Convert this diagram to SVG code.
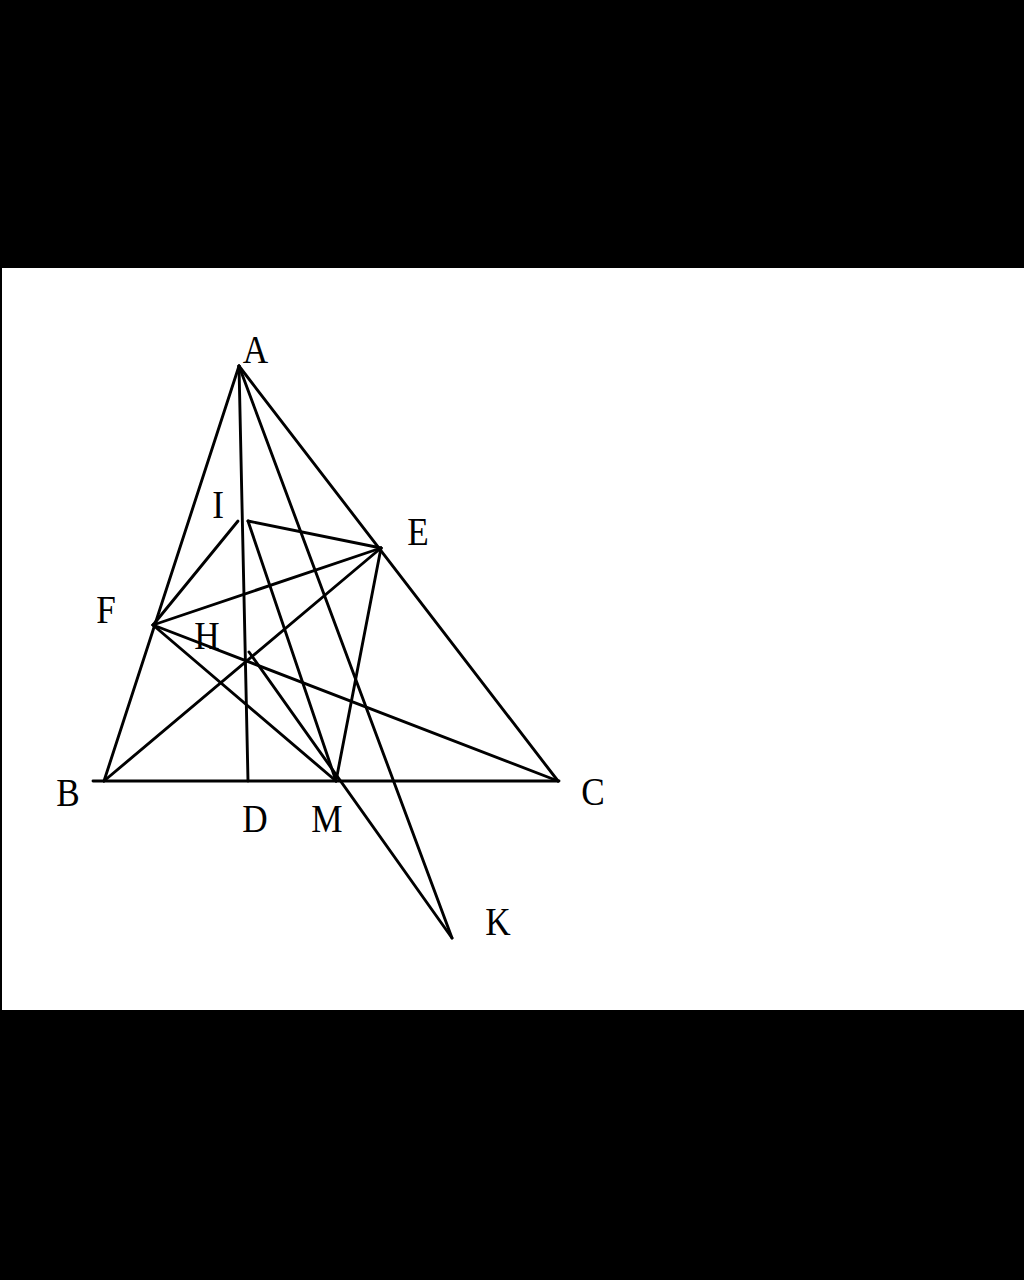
<svg xmlns="http://www.w3.org/2000/svg" width="1024" height="1280" viewBox="0 0 1024 1280">
<style>
.ln{stroke:#000;stroke-width:2.9;fill:none;stroke-linecap:round}
.lb{font-family:"Liberation Serif","Times New Roman",serif;font-size:40px;fill:#000;text-anchor:middle}
</style>
<rect x="0" y="0" width="1024" height="1280" fill="#000"/>
<rect x="2" y="268" width="1022" height="742" fill="#fff"/>
<g id="connectors">
<line class="ln" x1="239" y1="366" x2="104" y2="781"/>
<line class="ln" x1="239" y1="366" x2="558" y2="781"/>
<line class="ln" x1="239" y1="366" x2="248" y2="781"/>
<line class="ln" x1="239" y1="366" x2="452" y2="938"/>
<line class="ln" x1="93" y1="781" x2="559" y2="781"/>
<line class="ln" x1="104" y1="781" x2="381" y2="548"/>
<line class="ln" x1="153" y1="625" x2="381" y2="548"/>
<line class="ln" x1="153" y1="625" x2="238" y2="521"/>
<line class="ln" x1="248" y1="521" x2="381" y2="548"/>
<line class="ln" x1="248" y1="521" x2="336" y2="781"/>
<line class="ln" x1="381" y1="548" x2="336" y2="781"/>
<line class="ln" x1="153" y1="625" x2="336" y2="781"/>
<line class="ln" x1="153" y1="625" x2="558" y2="781"/>
<line class="ln" x1="249" y1="652" x2="452" y2="938"/>
</g>
<g id="A"><text class="lb" transform="translate(255.5,363) scale(0.88,1)">A</text></g>
<g id="I"><text class="lb" transform="translate(218,518) scale(0.88,1)">I</text></g>
<g id="E"><text class="lb" transform="translate(418,545) scale(0.88,1)">E</text></g>
<g id="F"><text class="lb" transform="translate(106,623) scale(0.88,1)">F</text></g>
<g id="H"><text class="lb" transform="translate(207,649) scale(0.88,1)">H</text></g>
<g id="B"><text class="lb" transform="translate(68,806) scale(0.88,1)">B</text></g>
<g id="D"><text class="lb" transform="translate(255,832) scale(0.88,1)">D</text></g>
<g id="M"><text class="lb" transform="translate(327,832) scale(0.88,1)">M</text></g>
<g id="C"><text class="lb" transform="translate(593,805) scale(0.88,1)">C</text></g>
<g id="K"><text class="lb" transform="translate(498,935) scale(0.88,1)">K</text></g>
</svg>
